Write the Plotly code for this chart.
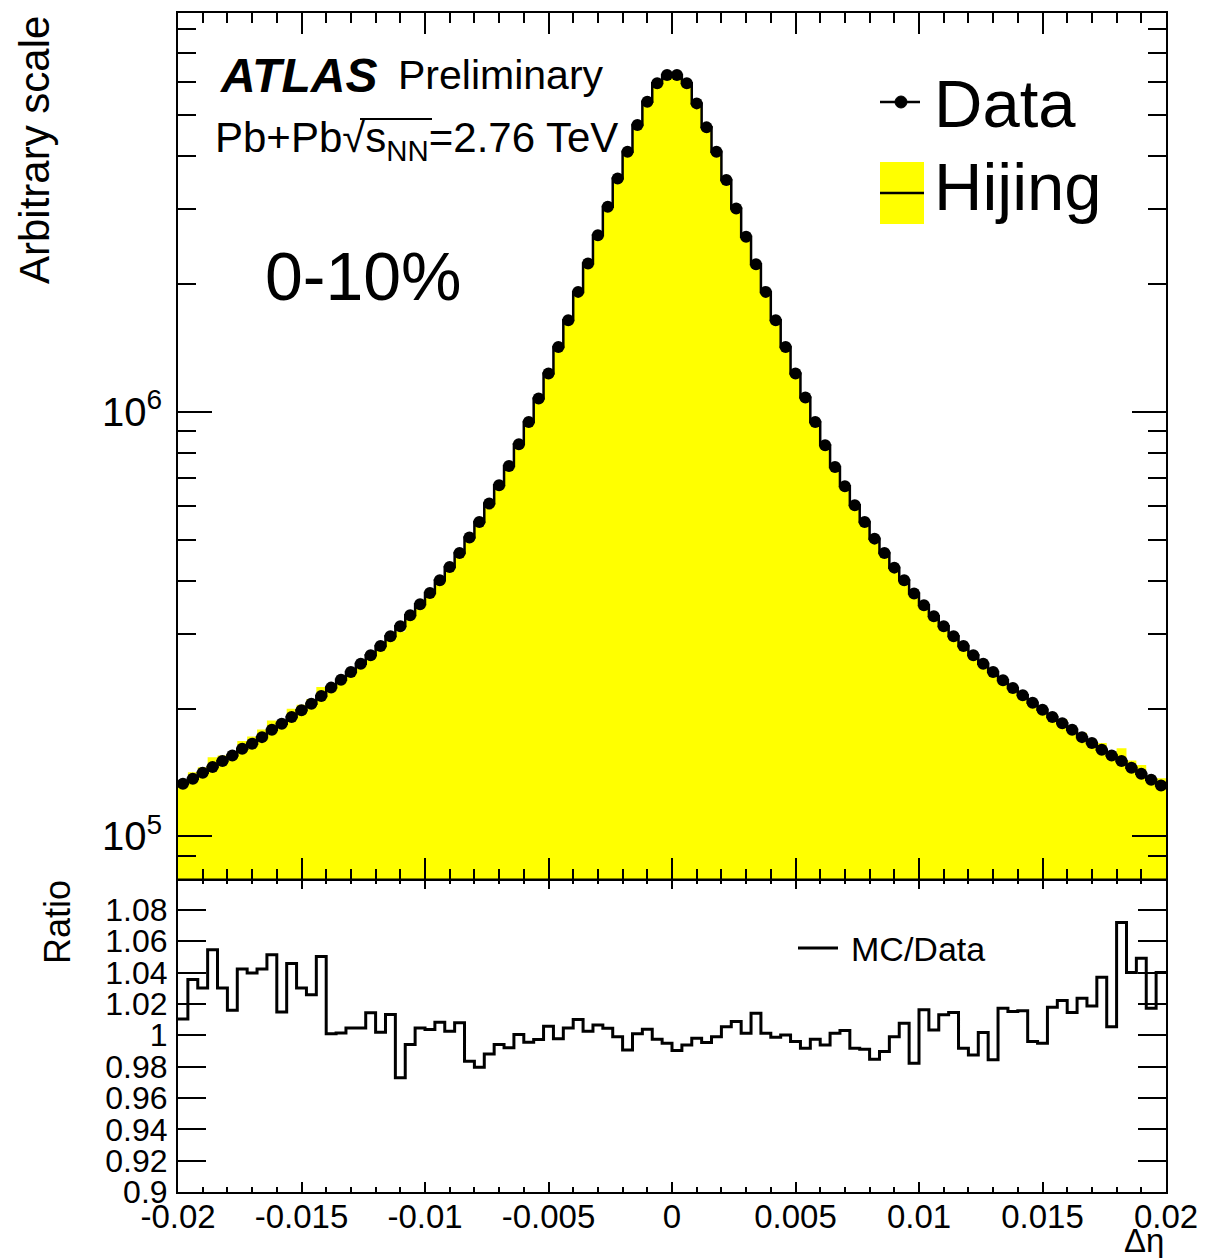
import numpy as np
import plotly.graph_objects as go

# ---------------- data ----------------
BIN_LO, BIN_HI, N_BINS = -0.02, 0.02, 100

data_counts = [
    133100, 136800, 141300, 145700, 150500, 155200, 161000, 165400, 171400, 178500,
    184400, 191100, 198200, 205500, 214200, 224200, 234100, 244000, 255300, 267100,
    280900, 296100, 312600, 331900, 352300, 374500, 401200, 431200, 465200, 505800,
    550600, 608300, 671800, 746100, 839200, 947100, 1075500, 1231700, 1423000, 1644900,
    1917800, 2237700, 2608900, 3042000, 3548900, 4100700, 4739200, 5377700, 5942900, 6215800,
    6215800, 5942900, 5330900, 4680600, 4100700, 3516400, 3016100, 2584900, 2229000, 1917800,
    1644900, 1423000, 1231700, 1081200, 947100, 834600, 742100, 668300, 602700, 550600,
    503000, 465200, 429800, 401200, 373300, 350300, 330000, 312600, 296100, 280900,
    267100, 255300, 244000, 233200, 223700, 215000, 206600, 198900, 191100, 184900,
    178500, 171400, 166000, 160100, 155200, 150500, 145200, 140500, 136000, 131900,
]

mc_over_data = [
    1.0104, 1.0355, 1.0302, 1.0546, 1.0302, 1.0159, 1.0423, 1.0397, 1.0423, 1.0514,
    1.0149, 1.0457, 1.0302, 1.0259, 1.0503, 1.0009, 1.0015, 1.0047, 1.0047, 1.0143,
    1.0019, 1.0132, 0.9729, 0.9941, 1.0047, 1.0036, 1.0083, 1.0025, 1.0079, 0.9834,
    0.9796, 0.9881, 0.9941, 0.9920, 1.0004, 0.9955, 0.9973, 1.0057, 0.9977, 1.0047,
    1.0100, 1.0025, 1.0066, 1.0045, 0.9991, 0.9906, 1.0009, 1.0038, 0.9974, 0.9949,
    0.9902, 0.9938, 0.9981, 0.9953, 0.9991, 1.0055, 1.0087, 1.0013, 1.0140, 1.0013,
    0.9987, 1.0002, 0.9960, 0.9917, 0.9974, 0.9938, 1.0013, 1.0030, 0.9917, 0.9911,
    0.9847, 0.9896, 0.9991, 1.0077, 0.9821, 1.0162, 1.0034, 1.0130, 1.0145, 0.9917,
    0.9874, 1.0017, 0.9843, 1.0172, 1.0151, 1.0157, 0.9960, 0.9949, 1.0179, 1.0221,
    1.0145, 1.0236, 1.0187, 1.0370, 1.0055, 1.0719, 1.0400, 1.0492, 1.0172, 1.0400,
]

x_tick_vals = [-0.02, -0.015, -0.01, -0.005, 0, 0.005, 0.01, 0.015, 0.02]
x_tick_text = ["-0.02", "-0.015", "-0.01", "-0.005", "0", "0.005", "0.01", "0.015", "0.02"]
ratio_tick_vals = [0.9, 0.92, 0.94, 0.96, 0.98, 1.0, 1.02, 1.04, 1.06, 1.08]
ratio_tick_text = ["0.9", "0.92", "0.94", "0.96", "0.98", "1", "1.02", "1.04", "1.06", "1.08"]
main_tick_vals = [1e5, 1e6]
main_tick_text = ["10<sup>5</sup>", "10<sup>6</sup>"]
main_minor_vals = [9e4] + [m * 1e5 for m in range(2, 10)] + [m * 1e6 for m in range(2, 9)]

# ---------------- derived ----------------
edges = np.linspace(BIN_LO, BIN_HI, N_BINS + 1)
centers = 0.5 * (edges[:-1] + edges[1:])
data = np.array(data_counts, dtype=float)
ratio = np.array(mc_over_data, dtype=float)
hijing = data * ratio  # MC = (MC/Data) * Data


def step_xy(vals):
    return edges, np.append(vals, vals[-1])


FONT = "Liberation Sans, Arial, Helvetica, sans-serif"
FILL_FLOOR = 1e4  # below visible log range, only closes the fill polygon

fig = go.Figure()

hx, hy = step_xy(hijing)
fig.add_trace(go.Scatter(
    x=np.concatenate([[edges[0]], hx, [edges[-1]]]),
    y=np.concatenate([[FILL_FLOOR], hy, [FILL_FLOOR]]),
    mode="lines", line=dict(shape="hv", width=0, color="#FFFF00"),
    fill="toself", fillcolor="#FFFF00", xaxis="x2", yaxis="y2", name="Hijing",
    hoverinfo="skip"))

dx, dy = step_xy(data)
fig.add_trace(go.Scatter(
    x=dx, y=dy, mode="lines", line=dict(shape="hv", width=2.5, color="black"),
    xaxis="x2", yaxis="y2", name="Data line", hoverinfo="skip"))
fig.add_trace(go.Scatter(
    x=centers, y=data, mode="markers", marker=dict(size=12, color="black"),
    xaxis="x2", yaxis="y2", name="Data"))

rx, ry = step_xy(ratio)
fig.add_trace(go.Scatter(
    x=rx, y=ry, mode="lines", line=dict(shape="hv", width=3, color="black"),
    xaxis="x", yaxis="y", name="MC/Data"))

SPLIT = 0.2659
axis_common = dict(showline=True, linecolor="black", linewidth=2, mirror="ticks",
                   showgrid=False, zeroline=False, ticks="inside", tickcolor="black",
                   tickwidth=2)

fig.update_layout(
    width=1209, height=1258,
    margin=dict(l=178, r=43, t=13, b=66),
    paper_bgcolor="white", plot_bgcolor="white",
    showlegend=False,
    font=dict(family=FONT, color="black"),
    xaxis=dict(domain=[0, 1], anchor="y", range=[BIN_LO, BIN_HI],
               tickmode="array", tickvals=x_tick_vals, ticktext=x_tick_text,
               ticklen=10, tickfont=dict(size=33, family=FONT), ticklabelstandoff=-6,
               minor=dict(ticks="inside", ticklen=5, dtick=0.001, tick0=0,
                          tickcolor="black", tickwidth=2),
               **axis_common),
    yaxis=dict(domain=[0, SPLIT], anchor="x", range=[0.9, 1.1],
               tickmode="array", tickvals=ratio_tick_vals, ticktext=ratio_tick_text,
               ticklen=28, tickfont=dict(size=32, family=FONT), ticklabelstandoff=2,
               **axis_common),
    xaxis2=dict(domain=[0, 1], anchor="y2", range=[BIN_LO, BIN_HI], matches="x",
                tickmode="array", tickvals=x_tick_vals, showticklabels=False,
                ticklen=21,
                minor=dict(ticks="inside", ticklen=10, dtick=0.001, tick0=0,
                           tickcolor="black", tickwidth=2),
                **axis_common),
    yaxis2=dict(domain=[SPLIT, 1], anchor="x2", type="log", range=[4.901, 6.9397],
                tickmode="array", tickvals=main_tick_vals, ticktext=main_tick_text,
                ticklen=34, tickfont=dict(size=40, family=FONT), ticklabelstandoff=6,
                minor=dict(ticks="inside", ticklen=18, tickmode="array",
                           tickvals=main_minor_vals, tickcolor="black", tickwidth=2),
                **axis_common),
)


def px_x(px):
    return (px - 178) / 988.0


def px_y(py):
    return (1192 - py) / 1179.0


ann = []


def text(s, x, y, size, xanchor="left", yanchor="middle", angle=0):
    ann.append(dict(text=s, x=x, y=y, xref="paper", yref="paper", showarrow=False,
                    xanchor=xanchor, yanchor=yanchor, textangle=angle,
                    font=dict(size=size, family=FONT, color="black")))


text("<b><i>ATLAS</i></b>", px_x(218), px_y(75), 48)
text("Preliminary", px_x(396), px_y(75), 41)
text("Pb+Pb√s<sub>NN</sub>=2.76 TeV", px_x(213), px_y(141), 42)
text("0-10%", px_x(263), px_y(276), 68)
text("Data", px_x(932), px_y(103), 67)
text("Hijing", px_x(932), px_y(187), 67)
text("MC/Data", px_x(849), px_y(949), 34)
text("Arbitrary scale", px_x(35), px_y(14), 42, xanchor="center", yanchor="top", angle=-90)
text("Ratio", px_x(58), px_y(878), 36, xanchor="center", yanchor="top", angle=-90)
text("Δη", 1.0, px_y(1240), 33, xanchor="right")
fig.update_layout(annotations=ann)

shapes = [
    # overline of the square root in the energy label
    dict(type="line", xref="paper", yref="paper", x0=px_x(360), x1=px_x(432),
         y0=px_y(119), y1=px_y(119), line=dict(color="black", width=2)),
    # legend symbols
    dict(type="line", xref="paper", yref="paper", x0=px_x(880), x1=px_x(920),
         y0=px_y(102), y1=px_y(102), line=dict(color="black", width=2.5)),
    dict(type="circle", xref="paper", yref="paper", xsizemode="pixel", ysizemode="pixel",
         xanchor=px_x(901), yanchor=px_y(102), x0=-6, x1=6, y0=-6, y1=6,
         fillcolor="black", line=dict(color="black", width=1)),
    dict(type="rect", xref="paper", yref="paper", x0=px_x(880), x1=px_x(924),
         y0=px_y(224), y1=px_y(162), fillcolor="#FFFF00", line=dict(width=0)),
    dict(type="line", xref="paper", yref="paper", x0=px_x(880), x1=px_x(924),
         y0=px_y(193), y1=px_y(193), line=dict(color="black", width=2.5)),
    dict(type="line", xref="paper", yref="paper", x0=px_x(798), x1=px_x(838),
         y0=px_y(948), y1=px_y(948), line=dict(color="black", width=3)),
]
fig.update_layout(shapes=shapes)

fig.write_html("out.html")
